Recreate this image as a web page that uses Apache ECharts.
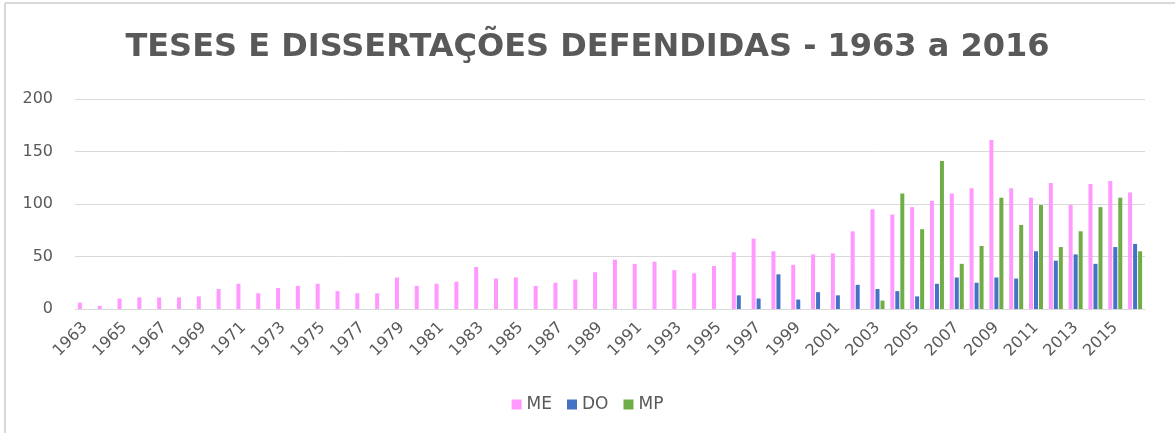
<!DOCTYPE html>
<html>
<head>
<meta charset="utf-8">
<script src="https://cdn.jsdelivr.net/npm/echarts@6/dist/echarts.min.js"></script>
<style>
html,body{margin:0;padding:0;background:#fff;overflow:hidden;}
#chart{width:1175px;height:433px;}
</style>
</head>
<body>
<div id="chart"></div>
<script>
const years = [];
for (let y = 1963; y <= 2016; y++) years.push(String(y));

const ME = [6,3,10,11,11,11,12,19,24,15,20,22,24,17,15,15,30,22,24,
            26,40,29,30,22,25,28,35,47,43,45,37,34,41,54,67,55,42,
            52,53,74,95,90,97,103,110,115,161,115,106,120,99,119,122,111];
const DO = [null,null,null,null,null,null,null,null,null,null,null,null,null,null,null,null,null,null,null,
            null,null,null,null,null,null,null,null,null,null,null,null,null,null,13,10,33,9,
            16,13,23,19,17,12,24,30,25,30,29,55,46,52,43,59,62];
const MP = [null,null,null,null,null,null,null,null,null,null,null,null,null,null,null,null,null,null,null,
            null,null,null,null,null,null,null,null,null,null,null,null,null,null,null,null,null,null,
            null,null,null,8,110,76,141,43,60,106,80,99,59,74,97,106,55];
const yTicks = [0,50,100,150,200];

const txt = '#595959';
const chart = echarts.init(document.getElementById('chart'), null, {renderer:'canvas'});
chart.setOption({
  animation:false,
  backgroundColor:'#fff',
  graphic:[
    {type:'line', shape:{x1:5, y1:3, x2:1175, y2:3}, style:{stroke:'#d9d9d9', lineWidth:2}, silent:true},
    {type:'line', shape:{x1:5, y1:3, x2:5, y2:433}, style:{stroke:'#d9d9d9', lineWidth:2}, silent:true}
  ],
  title:{
    text:'TESES E DISSERTAÇÕES DEFENDIDAS - 1963 a 2016',
    left:'center', top:27,
    textStyle:{fontFamily:'DejaVu Sans', fontWeight:'bold', fontSize:32, color:txt}
  },
  legend:{
    data:['ME','DO','MP'],
    bottom:15, left:'center',
    itemWidth:10, itemHeight:10, itemGap:15,
    icon:'rect',
    textStyle:{fontFamily:'DejaVu Sans', fontSize:17, color:txt}
  },
  grid:{left:75, right:30, top:99, bottom:124, containLabel:false},
  xAxis:{
    type:'category', data:years,
    axisLine:{show:true, lineStyle:{color:'#d9d9d9', width:1}},
    axisTick:{show:false},
    axisLabel:{interval:1, rotate:45, fontFamily:'DejaVu Sans', fontSize:16, color:txt, margin:16}
  },
  yAxis:{
    type:'value', min:yTicks[0], max:yTicks[yTicks.length-1], interval:50,
    axisLine:{show:false}, axisTick:{show:false},
    splitLine:{lineStyle:{color:'#d9d9d9', width:1}},
    axisLabel:{fontFamily:'DejaVu Sans', fontSize:16, color:txt, margin:22}
  },
  series:[
    {name:'ME', type:'bar', data:ME, barWidth:4, barGap:'25%', itemStyle:{color:'#ff99ff'}},
    {name:'DO', type:'bar', data:DO, barWidth:4, barGap:'25%', itemStyle:{color:'#4472c4'}},
    {name:'MP', type:'bar', data:MP, barWidth:4, barGap:'25%', itemStyle:{color:'#70ad47'}}
  ]
});
</script>
</body>
</html>
